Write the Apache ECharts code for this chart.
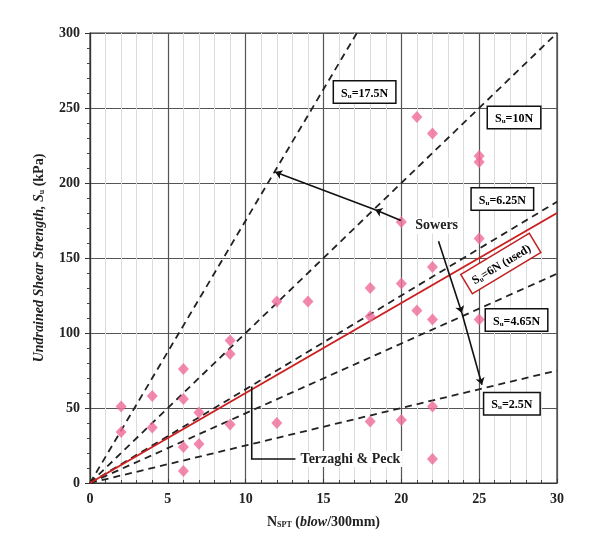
<!DOCTYPE html>
<html>
<head>
<meta charset="utf-8">
<script src="https://cdn.jsdelivr.net/npm/echarts@6/dist/echarts.min.js"></script>
<style>html,body{margin:0;padding:0;background:#fff}#c{width:590px;height:547px}</style>
</head>
<body>
<div id="c"></div>
<script>
// ---- data ----
var nSpt = [2,2,4,4,6,6,6,6,7,7,9,9,9,12,12,14,18,18,18,20,20,20,21,21,22,22,22,22,22,25,25,25,25];
var suKpa = [51,34,58,37,76,56,24,8,47,26,95,86,39,121,40,121,130,111,41,174,133,42,244,115,233,144,109,51,16,218,214,163,109];
var dashedRatios = [17.5, 10, 6.25, 4.65, 2.5];
var usedRatio = 6;
var xTicks = [0,5,10,15,20,25,30];
var yTicks = [0,50,100,150,200,250,300];

var XMAX = 30, YMAX = 300;
function lineEnds(k){ var xe = Math.min(XMAX, YMAX / k); return [[0,0],[xe, k*xe]]; }

var FONT = 'Liberation Serif';
var chart = echarts.init(document.getElementById('c'));

var series = [];
dashedRatios.forEach(function(k){
  series.push({type:'line', data: lineEnds(k), symbol:'none', silent:true, z:2,
    lineStyle:{color:'#222', width:1.8, type:[7,5]}});
});
series.push({type:'line', data: lineEnds(usedRatio), symbol:'none', silent:true, z:3,
  lineStyle:{color:'#cc2020', width:2}});
series.push({type:'scatter', data: nSpt.map(function(n,i){return [n, suKpa[i]];}),
  symbol:'diamond', symbolSize:[11,12], z:4, itemStyle:{color:'#f06a9a'}});

// annotation arrows (data coordinates)
var arrowStyle = {color:'#111', width:1.6, opacity:1};
series.push({type:'lines', coordinateSystem:'cartesian2d', z:5, silent:true,
  symbol:['none','arrow'], symbolSize:7, lineStyle:arrowStyle,
  data:[
    {coords:[[19.97,175],[18.32,182.2]]},
    {coords:[[18.32,182.2],[11.89,207.3]]},
    {coords:[[22.39,161.1],[23.89,113.3]]},
    {coords:[[23.89,113.3],[25.18,65.5]]}
  ]});
series.push({type:'lines', coordinateSystem:'cartesian2d', polyline:true, z:5, silent:true,
  symbol:['none','arrow'], symbolSize:7, lineStyle:arrowStyle,
  data:[{coords:[[13.2,16],[10.39,16],[10.39,64.4]]}]});

var labelFont = {fontFamily:FONT, fontWeight:'bold', fontSize:14, color:'#222'};

chart.setOption({
  animation:false,
  backgroundColor:'#fff',
  grid:{left:90, right:33, top:33, bottom:64, show:true, borderColor:'#333', borderWidth:1.2, backgroundColor:'transparent'},
  xAxis:{type:'value', min:0, max:30, interval:5,
    name:'{n|N}{s|SPT}{t| (}{i|blow}{t|/300mm)}', nameLocation:'middle', nameGap:30,
    nameTextStyle:{rich:{
      n:{fontFamily:FONT,fontWeight:'bold',fontSize:14,color:'#222',verticalAlign:'bottom',lineHeight:16},
      s:{fontFamily:FONT,fontWeight:'bold',fontSize:8,color:'#222',verticalAlign:'bottom',lineHeight:12},
      t:{fontFamily:FONT,fontWeight:'bold',fontSize:14,color:'#222',verticalAlign:'bottom',lineHeight:16},
      i:{fontFamily:FONT,fontWeight:'bold',fontStyle:'italic',fontSize:14,color:'#222',verticalAlign:'bottom',lineHeight:16}
    }},
    axisLine:{lineStyle:{color:'#333', width:1.2}},
    axisTick:{inside:true, length:4, lineStyle:{color:'#333'}},
    minorTick:{show:true, splitNumber:5, length:3, lineStyle:{color:'#444'}},
    minorSplitLine:{show:true, lineStyle:{color:'#dcdcdc', width:1}},
    splitLine:{show:true, lineStyle:{color:'#555', width:1.2}},
    axisLabel:Object.assign({margin:9, formatter:function(v){return xTicks.indexOf(v)>=0?String(v):'';}}, labelFont)
  },
  yAxis:{type:'value', min:0, max:300, interval:50,
    name:'{i|Undrained Shear Strength, S}{s|u}{t| (kPa)}', nameLocation:'middle', nameGap:44,
    nameTextStyle:{rich:{
      i:{fontFamily:FONT,fontWeight:'bold',fontStyle:'italic',fontSize:14,color:'#222',verticalAlign:'bottom',lineHeight:16},
      s:{fontFamily:FONT,fontWeight:'bold',fontSize:8,color:'#222',verticalAlign:'bottom',lineHeight:12},
      t:{fontFamily:FONT,fontWeight:'bold',fontSize:14,color:'#222',verticalAlign:'bottom',lineHeight:16}
    }},
    axisLine:{lineStyle:{color:'#333', width:1.2}},
    axisTick:{inside:false, length:5, lineStyle:{color:'#333'}},
    minorTick:{show:true, splitNumber:5, length:3, lineStyle:{color:'#444'}},
    minorSplitLine:{show:false},
    splitLine:{show:true, lineStyle:{color:'#555', width:1.2}},
    axisLabel:Object.assign({margin:10, formatter:function(v){return yTicks.indexOf(v)>=0?String(v):'';}}, labelFont)
  },
  series:series
});

// ---- text annotations placed in data coordinates ----
var boxLabels = [
  {ratio:'17.5N', at:[17.64,260.7]},
  {ratio:'10N', at:[27.24,243.7]},
  {ratio:'6.25N', at:[26.49,189.3]},
  {ratio:'4.65N', at:[27.4,108.7]},
  {ratio:'2.5N', at:[27.1,52.9]}
];
function richFor(color){
  return {
    b:{fontFamily:FONT,fontWeight:'bold',fontSize:12,color:color,verticalAlign:'bottom',lineHeight:14},
    u:{fontFamily:FONT,fontWeight:'bold',fontSize:7,color:color,verticalAlign:'bottom',lineHeight:10}
  };
}
var gfx = [];
boxLabels.forEach(function(b){
  var p = chart.convertToPixel({gridIndex:0}, b.at);
  gfx.push({type:'text', x:p[0], y:p[1], z:10,
    style:{text:'{b|S}{u|u}{b|=' + b.ratio + '}', rich:richFor('#111'), align:'center', verticalAlign:'middle',
      backgroundColor:'#fff', borderColor:'#111', borderWidth:1.5, padding:[4,7,3,7]}});
});
var pu = chart.convertToPixel({gridIndex:0}, [26.39,146.3]);
gfx.push({type:'text', x:pu[0], y:pu[1], rotation:31*Math.PI/180, z:10,
  style:{text:'{b|S}{u|u}{b|=6N (used)}', rich:richFor('#c02020'), align:'center', verticalAlign:'middle',
    backgroundColor:'#fff', borderColor:'#c02020', borderWidth:1.5, padding:[4,6,3,6]}});
var ps = chart.convertToPixel({gridIndex:0}, [22.27,171.5]);
gfx.push({type:'text', x:ps[0], y:ps[1], z:10,
  style:{text:'Sowers', fontFamily:FONT, fontWeight:'bold', fontSize:14, fill:'#222', align:'center', verticalAlign:'middle',
    backgroundColor:'#fff', padding:[1,2]}});
var pt = chart.convertToPixel({gridIndex:0}, [13.4,16]);
gfx.push({type:'text', x:pt[0], y:pt[1], z:10,
  style:{text:'Terzaghi & Peck', fontFamily:FONT, fontWeight:'bold', fontSize:14, fill:'#222', align:'left', verticalAlign:'middle',
    backgroundColor:'#fff', padding:[1,2]}});
chart.setOption({graphic:gfx});
</script>
</body>
</html>
